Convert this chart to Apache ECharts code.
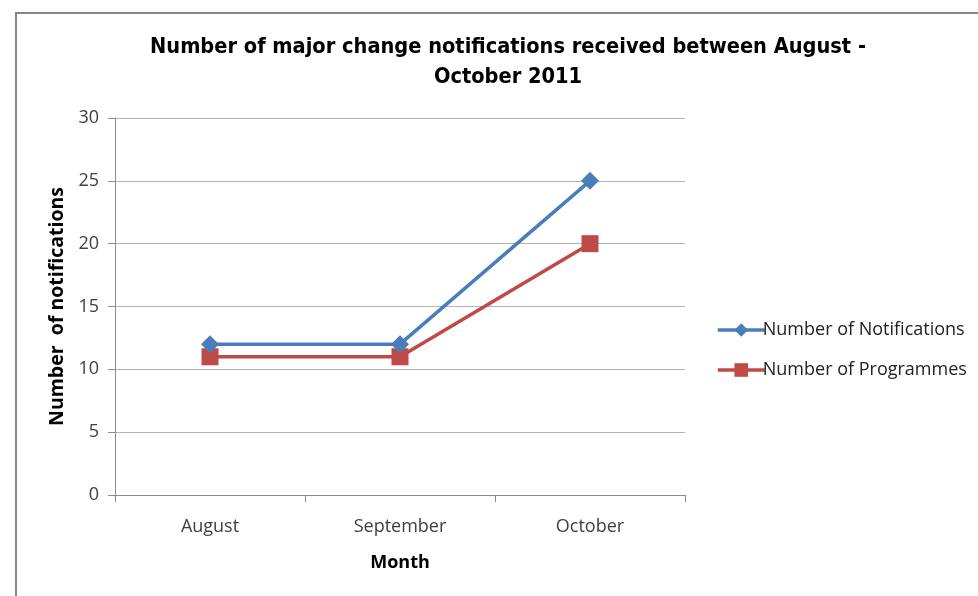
<!DOCTYPE html>
<html>
<head>
<meta charset="utf-8">
<style>
html, body { margin: 0; padding: 0; background: #fff; }
#main { width: 978px; height: 596px; }
</style>
<script src="https://cdn.jsdelivr.net/npm/echarts@6/dist/echarts.min.js"></script>
</head>
<body>
<div id="main"></div>
<script>
const months = ['August', 'September', 'October']
const notifications = [12, 12, 25]
const programmes = [11, 11, 20]
const yTicks = { min: 0, max: 30, interval: 5 }

const labelFont = 'Open Sans'
const myChart = echarts.init(document.getElementById('main'))
myChart.setOption({
  animation: false,
  backgroundColor: '#fff',
  graphic: [
    { // outer chart frame, runs off the right and bottom edges
      type: 'rect',
      shape: { x: 16, y: 13, width: 1100, height: 700 },
      style: { fill: 'none', stroke: '#868686', lineWidth: 2 },
      silent: true
    }
  ],
  title: {
    text: 'Number of major change notifications received between August -\nOctober 2011',
    left: 503,
    textAlign: 'center',
    top: 27,
    textStyle: {
      fontFamily: '"Liberation Sans Narrow", "DejaVu Sans Condensed", "Liberation Sans"',
      fontWeight: 'bold',
      fontSize: 21.6,
      lineHeight: 30,
      color: '#000'
    }
  },
  legend: {
    orient: 'vertical',
    left: 711,
    top: 316,
    itemGap: 22,
    itemWidth: 47,
    itemHeight: 17,
    lineStyle: { width: 3.5 },
    textStyle: { fontFamily: labelFont, fontSize: 18, color: '#222', padding: [0, 0, 0, -7] },
    data: ['Number of Notifications', 'Number of Programmes']
  },
  grid: { left: 115, right: 293, top: 118, bottom: 101 },
  xAxis: {
    type: 'category',
    data: months,
    name: 'Month',
    nameLocation: 'middle',
    nameGap: 59,
    nameTextStyle: { fontFamily: labelFont, fontWeight: 'bold', fontSize: 18, color: '#000' },
    axisLine: { lineStyle: { color: '#8c8c8c', width: 1 } },
    axisTick: { show: true, alignWithLabel: false, length: 7, lineStyle: { color: '#8c8c8c' } },
    axisLabel: { fontFamily: labelFont, fontSize: 18, color: '#404040', margin: 23 }
  },
  yAxis: {
    type: 'value',
    min: yTicks.min,
    max: yTicks.max,
    interval: yTicks.interval,
    name: 'Number  of notifications',
    nameLocation: 'middle',
    nameGap: 42,
    nameTextStyle: { fontFamily: labelFont, fontWeight: 'bold', fontSize: 19.5, color: '#000' },
    axisLine: { show: true, lineStyle: { color: '#8c8c8c', width: 1 } },
    axisTick: { show: true, length: 7, lineStyle: { color: '#8c8c8c' } },
    axisLabel: { fontFamily: labelFont, fontSize: 18, color: '#404040', margin: 16 },
    splitLine: { lineStyle: { color: '#b3b3b3', width: 1 } }
  },
  series: [
    {
      name: 'Number of Notifications',
      type: 'line',
      data: notifications,
      symbol: 'diamond',
      symbolSize: 18,
      color: '#4A7EBB',
      lineStyle: { width: 3.5, color: '#4A7EBB' },
      itemStyle: { color: '#4A7EBB' },
      z: 3
    },
    {
      name: 'Number of Programmes',
      type: 'line',
      data: programmes,
      symbol: 'rect',
      symbolSize: 17,
      color: '#BE4B48',
      lineStyle: { width: 3.5, color: '#BE4B48' },
      itemStyle: { color: '#BE4B48' },
      z: 2
    }
  ]
})
</script>
</body>
</html>
